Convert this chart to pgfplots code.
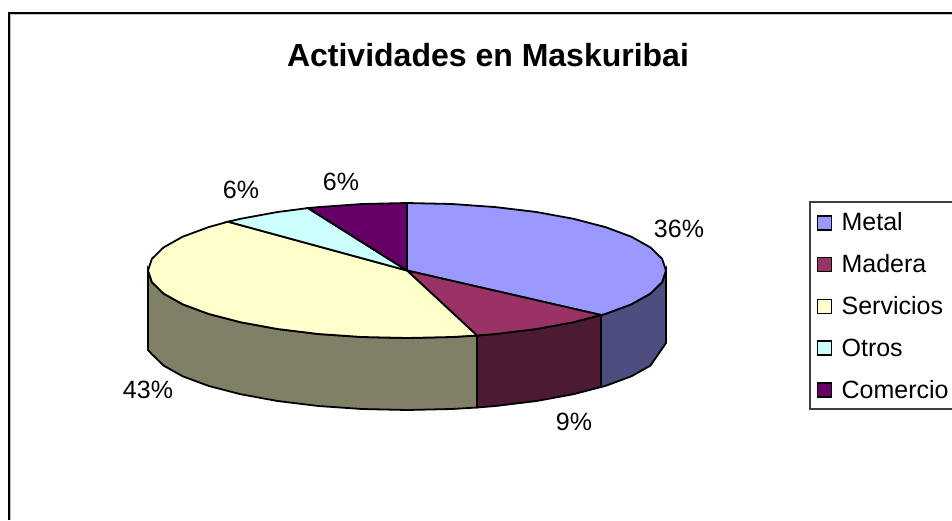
\documentclass[border=0pt]{standalone}
\usepackage{pgfplots}
\pgfplotsset{compat=1.18}
\usepackage{fontspec}
\setmainfont{Liberation Sans}
\definecolor{cMetal}{HTML}{9999FF}
\definecolor{cMadera}{HTML}{993366}
\definecolor{cServ}{HTML}{FFFFCC}
\definecolor{cOtros}{HTML}{CCFFFF}
\definecolor{cCom}{HTML}{660066}
\definecolor{wMetal}{HTML}{4D4D80}
\definecolor{wMadera}{HTML}{4D1A33}
\definecolor{wServ}{HTML}{808066}
\begin{document}
\begin{tikzpicture}
\useasboundingbox (0,0) rectangle (952pt,520pt);
\begin{axis}[
  width=952pt,height=520pt,scale only axis,
  xmin=0,xmax=952,ymin=0,ymax=520,y dir=reverse,
  hide axis,clip=false,
  legend style={at={(axis cs:809,201)},anchor=north west,draw=black!75,line width=1.6pt,
    font=\fontsize{25}{28}\selectfont,inner xsep=7pt,inner ysep=6.5pt,
    legend cell align=left,fill=white,
    nodes={text height=22.5pt,text depth=4.5pt,text width=130pt,inner sep=0pt,anchor=west},
    row sep=14.8pt},
  legend image code/.code={\path[draw=none,fill=none] (0pt,0pt) -- (24pt,0pt);\draw[#1,line width=1.6pt] (0pt,-8pt) rectangle (14pt,6pt);},
]
\addplot[forget plot,draw=black!25,line width=1pt] coordinates {(10.5,520) (10.5,14.5) (952,14.5)};
\addplot[forget plot,draw=black,line width=2pt] coordinates {(9,520) (9,13) (952,13)};
% walls
\addplot[forget plot,fill=wServ,draw=black,line width=1.8pt] coordinates {
 (148,270.5)(148,350)(151.9,354.2)(163.6,365.6)(182.7,376.3)(208.6,385.9)(240.5,394.2)(277.5,401)(318.4,406)(362,409)(407,410)(452,409)(477,407.5)
 (477,335.5)(452,337)(407,338)(362,337)(318.4,334)(277.5,329)(240.5,322.2)(208.6,313.9)(182.7,304.3)(163.6,293.6)(151.9,282.2)} --cycle;
\addplot[forget plot,fill=wMadera,draw=black,line width=1.8pt] coordinates {
 (477,335.5)(477,407.5)(495.6,406)(536.5,401)(573.5,394.2)(601,387)(601,315)(573.5,322.2)(536.5,329)(495.6,334)} --cycle;
\addplot[forget plot,fill=wMetal,draw=black,line width=1.8pt] coordinates {
 (601,315)(601,387)(605.4,385.9)(631.3,376.3)(650.4,365.6)(666,343)(666,270.5)(662.1,282.2)(650.4,293.6)(631.3,304.3)(605.4,313.9)} --cycle;
% top faces
\addplot[fill=cMetal,draw=black,line width=1.8pt] coordinates {
 (407,270.5)(407,203)(452,204)(495.6,207.1)(536.5,212)(573.5,218.8)(605.4,227.1)(631.3,236.7)(650.4,247.4)(662.1,258.8)(666,270.5)(662.1,282.2)(650.4,293.6)(631.3,304.3)(605.4,313.9)(601,315)} --cycle;
\addplot[fill=cMadera,draw=black,line width=1.8pt] coordinates {
 (407,270.5)(601,315)(573.5,322.2)(536.5,329)(495.6,334)(477,335.5)} --cycle;
\addplot[fill=cServ,draw=black,line width=1.8pt] coordinates {
 (407,270.5)(477,335.5)(452,337)(407,338)(362,337)(318.4,334)(277.5,329)(240.5,322.2)(208.6,313.9)(182.7,304.3)(163.6,293.6)(151.9,282.2)(148,270.5)(151.9,258.8)(163.6,247.4)(182.7,236.7)(208.6,227.1)(228,221.7)} --cycle;
\addplot[fill=cOtros,draw=black,line width=1.8pt] coordinates {
 (407,270.5)(228,221.7)(240.5,218.8)(277.5,212)(308,208.1)} --cycle;
\addplot[fill=cCom,draw=black,line width=1.8pt] coordinates {
 (407,270.5)(308,208.1)(318.4,207.1)(362,204)(407,203)} --cycle;
\legend{Metal,Madera,Servicios,Otros,Comercio}
\node[font=\bfseries\fontsize{32}{36}\selectfont] at (axis cs:488,55) {Actividades en Maskuribai};
\node[font=\fontsize{25}{28}\selectfont] at (axis cs:679,229) {36\%};
\node[font=\fontsize{25}{28}\selectfont] at (axis cs:574,422) {9\%};
\node[font=\fontsize{25}{28}\selectfont] at (axis cs:148,390) {43\%};
\node[font=\fontsize{25}{28}\selectfont] at (axis cs:241,190) {6\%};
\node[font=\fontsize{25}{28}\selectfont] at (axis cs:341,182) {6\%};
\end{axis}
\end{tikzpicture}
\end{document}
